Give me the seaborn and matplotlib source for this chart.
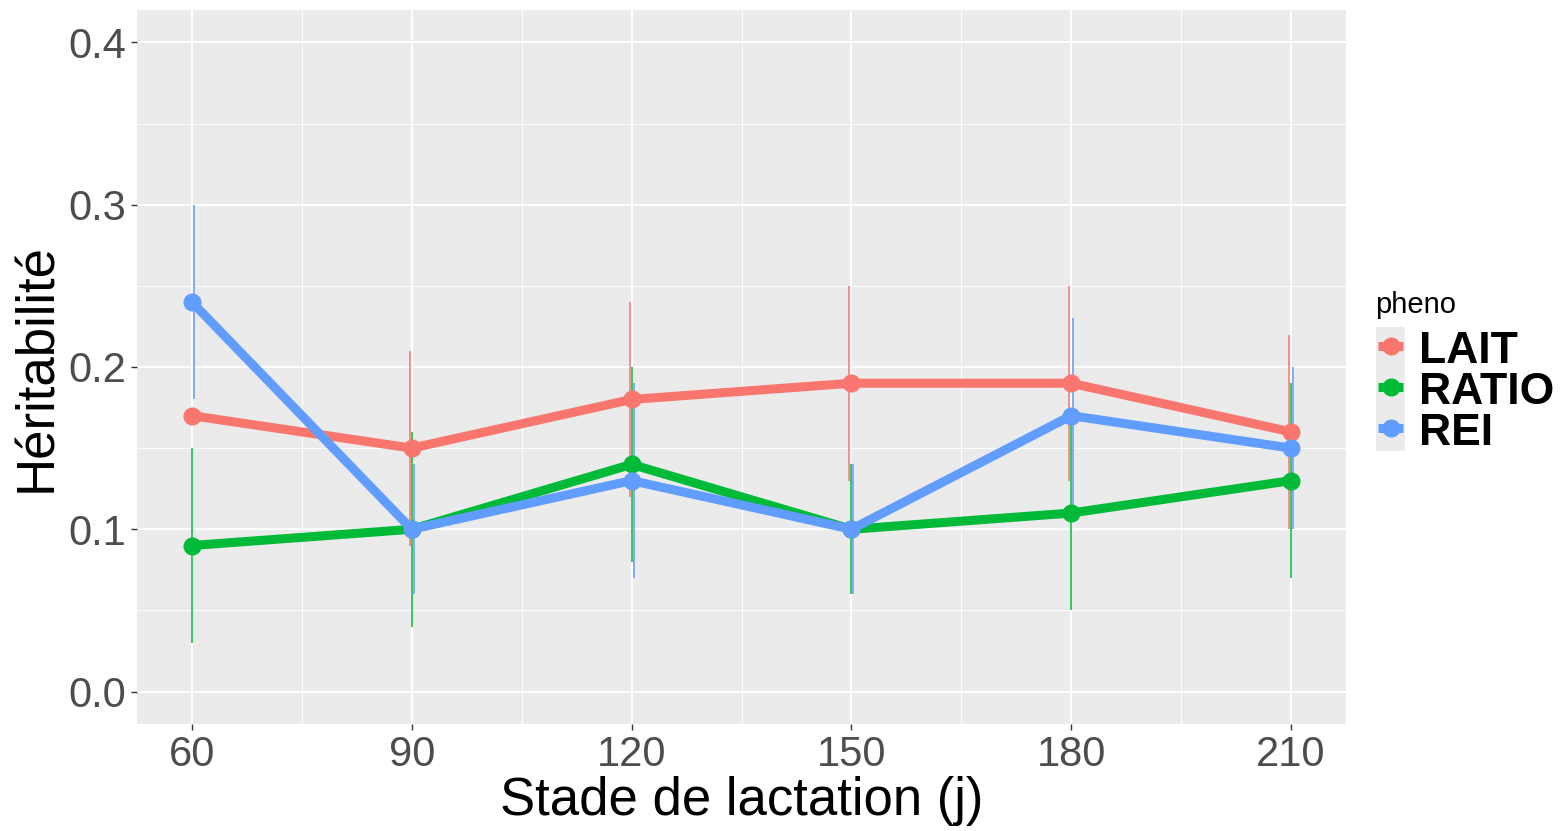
import numpy as np
import pandas as pd
import matplotlib
matplotlib.use("Agg")
import matplotlib.pyplot as plt
from matplotlib.lines import Line2D
from matplotlib.patches import Rectangle
from matplotlib.ticker import MultipleLocator
import seaborn as sns

# Lactation stages (days)
stades = [60, 90, 120, 150, 180, 210]

# Heritability estimates per phenotype
lait = [0.17, 0.15, 0.18, 0.19, 0.19, 0.16]
ratio = [0.09, 0.10, 0.14, 0.10, 0.11, 0.13]
rei = [0.24, 0.10, 0.13, 0.10, 0.17, 0.15]

# Interval bounds
lait_low = [np.nan, 0.09, 0.12, 0.13, 0.13, 0.10]
lait_high = [np.nan, 0.21, 0.24, 0.25, 0.25, 0.22]
ratio_low = [0.03, 0.04, 0.08, 0.06, 0.05, 0.07]
ratio_high = [0.15, 0.16, 0.20, 0.14, 0.17, 0.19]
rei_low = [0.18, 0.06, 0.07, 0.06, 0.11, 0.10]
rei_high = [0.30, 0.14, 0.19, 0.14, 0.23, 0.20]

phenos = ["LAIT", "RATIO", "REI"]
colors = {"LAIT": "#F8766D", "RATIO": "#00BA38", "REI": "#619CFF"}

df = pd.DataFrame({
    "stade": stades * 3,
    "h2": lait + ratio + rei,
    "low": lait_low + ratio_low + rei_low,
    "high": lait_high + ratio_high + rei_high,
    "pheno": [p for p in phenos for _ in stades],
})

sns.set_theme(style="darkgrid")
plt.rcParams["font.family"] = ["Liberation Sans", "DejaVu Sans"]

W, H = 1561, 831
fig = plt.figure(figsize=(W / 100, H / 100), dpi=100)
ax = fig.add_axes([137 / W, 1 - 724 / H, (1346 - 137) / W, (724 - 10) / H])
ax.set_facecolor("#EBEBEB")

# thin interval bars, slightly dodged
offsets = {"LAIT": -1.2, "RATIO": 0.0, "REI": 1.2}
for p in phenos:
    sub = df[df["pheno"] == p]
    ax.vlines(sub["stade"] + offsets[p] * 0.22, sub["low"], sub["high"],
              color=colors[p], linewidth=1.1, zorder=2)

sns.lineplot(data=df, x="stade", y="h2", hue="pheno", hue_order=phenos,
             palette=colors, linewidth=6.5, marker="o", markersize=13,
             markeredgewidth=0, legend=False, ax=ax, zorder=3)

ax.set_xlim(52.5, 217.5)
ax.set_ylim(-0.02, 0.42)
ax.set_xticks(stades)
ax.set_yticks([0.0, 0.1, 0.2, 0.3, 0.4])
ax.set_yticklabels(["0.0", "0.1", "0.2", "0.3", "0.4"])
ax.xaxis.set_minor_locator(MultipleLocator(15))
ax.yaxis.set_minor_locator(MultipleLocator(0.05))
ax.grid(which="major", color="white", linewidth=1.4)
ax.grid(which="minor", color="white", linewidth=0.7)
for s in ax.spines.values():
    s.set_visible(False)
ax.tick_params(axis="both", which="major", labelsize=30, labelcolor="#4D4D4D",
               length=4, color="#333333", width=1, direction="out", pad=4)
ax.tick_params(which="minor", length=0)
ax.tick_params(axis="x", bottom=True)
ax.tick_params(axis="y", left=True)

ax.set_xlabel("Stade de lactation (j)", fontsize=38, color="black", labelpad=1)
ax.set_ylabel("Héritabilité", fontsize=38, color="black", labelpad=4)


def fx(px):
    return px / W


def fy(py):
    return 1 - py / H


# legend: title, key background, keys and labels
fig.text(fx(1375), fy(313), "pheno", fontsize=21, color="black",
         ha="left", va="baseline")
fig.patches.append(Rectangle((fx(1376), fy(451)), 29 / W, 124 / H,
                             transform=fig.transFigure, facecolor="#EBEBEB",
                             edgecolor="none", zorder=0))
key_y = {"LAIT": 346, "RATIO": 387, "REI": 428}
for p in phenos:
    y = key_y[p]
    fig.add_artist(Line2D([fx(1378), fx(1403)], [fy(y), fy(y)],
                          transform=fig.transFigure, color=colors[p],
                          linewidth=6.5, solid_capstyle="butt"))
    fig.add_artist(Line2D([fx(1390.5)], [fy(y)], transform=fig.transFigure,
                          color=colors[p], marker="o", markersize=13,
                          markeredgewidth=0, linestyle="none"))
    fig.text(fx(1419), fy(y + 17), p, fontsize=32, fontweight="bold",
             color="black", ha="left", va="baseline")

fig.savefig("out.png", dpi=100, facecolor="white")
